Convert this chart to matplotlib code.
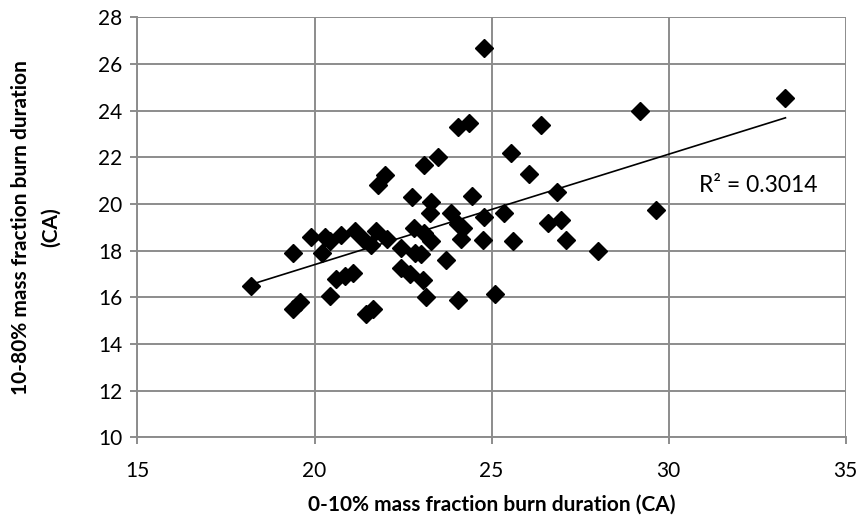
import matplotlib
matplotlib.use("Agg")
import matplotlib.pyplot as plt
import numpy as np

# 0-10% burn duration (x) vs 10-80% burn duration (y)
burn_0_10 = [18.2, 19.4, 19.4, 19.6, 19.9, 20.2, 20.3, 20.45, 20.75, 21.15,
             21.4, 21.6, 21.75, 22.05, 22.45, 22.85, 22.8, 23.1, 23.3, 23.25,
             23.85, 24.05, 24.2, 24.15, 24.8, 24.75, 25.35, 25.6, 26.6, 26.95,
             27.1, 28.0, 26.85, 29.65, 29.2, 33.3, 24.8, 24.05, 24.35, 26.4,
             23.5, 23.1, 25.55, 26.05, 22.0, 21.8, 22.75, 23.3, 24.45, 20.45,
             20.6, 20.85, 21.1, 21.45, 21.65, 22.45, 22.7, 23.05, 23.15, 24.05,
             25.1, 23.7, 23.0]
burn_10_80 = [16.5, 17.9, 15.5, 15.8, 18.6, 17.9, 18.6, 18.4, 18.65, 18.85,
              18.45, 18.25, 18.85, 18.5, 18.1, 17.9, 18.95, 18.75, 18.4, 19.6,
              19.6, 19.15, 18.95, 18.5, 19.45, 18.45, 19.6, 18.4, 19.2, 19.3,
              18.45, 18.0, 20.5, 19.75, 24.0, 24.55, 26.7, 23.3, 23.45, 23.4,
              22.0, 21.65, 22.2, 21.3, 21.25, 20.8, 20.3, 20.1, 20.35, 16.05,
              16.8, 16.9, 17.05, 15.3, 15.5, 17.25, 17.0, 16.75, 16.0, 15.9,
              16.15, 17.6, 17.85]

plt.rcParams['font.family'] = ['Lato', 'DejaVu Sans']

fig = plt.figure(figsize=(8.62, 5.21), dpi=100)
ax = fig.add_axes([0.1595, 0.1607, 0.8215, 0.8061])

grid_col = '#8c8c8c'
ax.set_axisbelow(True)
ax.grid(True, color=grid_col, linewidth=1.4)

x = np.array(burn_0_10)
y = np.array(burn_10_80)
ax.plot(x, y, linestyle='none', marker='D', markersize=9.5, color='black')

# linear trendline
slope, intercept = np.polyfit(x, y, 1)
xs = np.array([x.min(), x.max()])
ax.plot(xs, slope * xs + intercept, color='black', linewidth=1.2)
ax.text(30.85, 20.8, 'R² = 0.3014', fontsize=16.5, va='center', ha='left')

ax.set_xlim(15, 35)
ax.set_ylim(10, 28)
ax.set_xticks([15, 20, 25, 30, 35])
ax.set_yticks(range(10, 29, 2))

for s in ax.spines.values():
    s.set_visible(False)
ax.spines['left'].set_visible(True)
ax.spines['bottom'].set_visible(True)
ax.spines['left'].set_color(grid_col)
ax.spines['bottom'].set_color(grid_col)
ax.spines['left'].set_linewidth(1.4)
ax.spines['bottom'].set_linewidth(1.4)
ax.tick_params(axis='both', colors=grid_col, labelcolor='black', labelsize=15,
               length=5, width=1.4, direction='out')
ax.tick_params(axis='x', pad=12)
ax.tick_params(axis='y', pad=6)

ax.set_xlabel('0-10% mass fraction burn duration (CA)', fontsize=15,
              fontweight='bold', labelpad=10)
ax.set_ylabel('10-80% mass fraction burn duration\n(CA)', fontsize=15,
              fontweight='bold', labelpad=27, linespacing=1.6)

fig.savefig('out.png', dpi=100)
